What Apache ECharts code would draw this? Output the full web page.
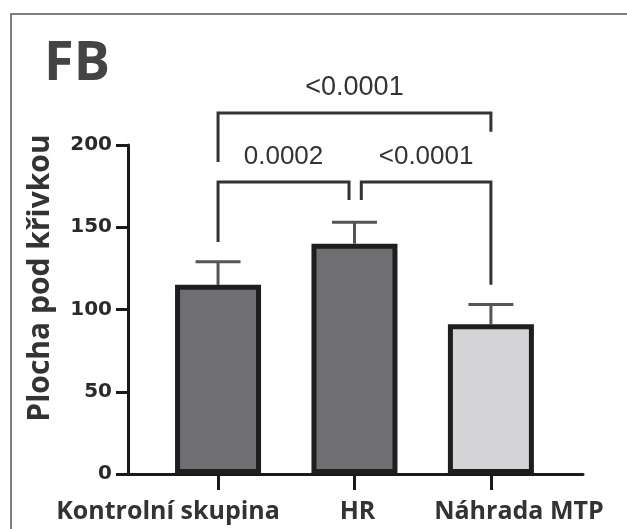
<!DOCTYPE html>
<html>
<head>
<meta charset="utf-8">
<script src="https://cdn.jsdelivr.net/npm/echarts@6/dist/echarts.min.js"></script>
<style>html,body{margin:0;padding:0;background:#fff}#c{width:627px;height:529px}</style>
</head>
<body>
<div id="c"></div>
<script>
const categories = ['Kontrolní skupina', 'HR', 'Náhrada MTP'];
const means = [115, 140, 91];
const upperErr = [129, 153, 103];
const yTicks = [0, 50, 100, 150, 200];
// brackets: [xStart, xEnd, yTop, yLeftEnd, yRightEnd]
const bracketX1 = [0, 1.05, 0];
const bracketX2 = [0.96, 2, 2];
const bracketTop = [177.5, 177.5, 219.5];
const bracketLeftEnd = [141, 166.5, 189.7];
const bracketRightEnd = [166.5, 115, 208];
const bracketLabels = ['0.0002', '<0.0001', '<0.0001'];
const bracketFontSize = [26, 26, 27];

const barColors = ['#6f6f73', '#6f6f73', '#d4d4d6'];
const labelStyleKeys = ['l', 'c', 'r'];

const chart = echarts.init(document.getElementById('c'), null, {renderer: 'canvas'});

const barData = means.map((v, i) => ({value: [i, v], itemStyle: {color: barColors[i]}}));
const errData = means.map((v, i) => [i, v, upperErr[i]]);
const brData = bracketX1.map((x, i) => [x, bracketTop[i], bracketX2[i], bracketLeftEnd[i], bracketRightEnd[i]]);

const lblBase = {fontFamily: 'Open Sans', fontWeight: 'bold', fontSize: 25, color: '#333'};

chart.setOption({
  animation: false,
  backgroundColor: '#fff',
  grid: {left: 128, right: 44, top: 145, bottom: 55},
  graphic: [
    {type: 'rect', shape: {x: 11, y: 14, width: 700, height: 600}, style: {fill: 'none', stroke: '#555', lineWidth: 1.5}, z: 0},
    {type: 'text', x: 44, y: 65, style: {text: 'FB', font: 'bold 54px "Open Sans"', fill: '#444', verticalAlign: 'middle', align: 'left'}},
    {type: 'text', x: 40, y: 278, rotation: Math.PI / 2, style: {text: 'Plocha pod křivkou', font: 'bold 30px "Open Sans"', fill: '#333', align: 'center', verticalAlign: 'middle'}}
  ],
  xAxis: {
    type: 'value', min: -0.66, max: 2.675,
    splitLine: {show: false},
    axisLine: {show: true, onZero: false, lineStyle: {color: '#1a1a1a', width: 3}},
    axisTick: {show: true, customValues: [0, 1, 2], length: 16, lineStyle: {color: '#1a1a1a', width: 3}},
    axisLabel: {customValues: [0, 1, 2], margin: 25,
      formatter: v => { const i = Math.round(v); return '{' + labelStyleKeys[i] + '|' + categories[i] + '}'; },
      rich: {
        l: Object.assign({padding: [0, 100, 0, 0]}, lblBase),
        c: Object.assign({padding: [0, 0, 0, 6]}, lblBase),
        r: Object.assign({padding: [0, 0, 0, 56]}, lblBase)
      }
    }
  },
  yAxis: {
    type: 'value', min: 0, max: 200, interval: 50,
    splitLine: {show: false},
    axisLine: {show: true, onZero: false, lineStyle: {color: '#1a1a1a', width: 3}},
    axisTick: {show: true, length: 12, lineStyle: {color: '#1a1a1a', width: 3}},
    axisLabel: {margin: 16, fontFamily: 'DejaVu Sans', fontWeight: 'bold', fontSize: 20, color: '#2a2a2a',
      customValues: yTicks}
  },
  series: [
    {
      type: 'custom', z: 1, clip: false,
      data: errData,
      renderItem: (params, api) => {
        const p0 = api.coord([api.value(0), api.value(1)]);
        const p1 = api.coord([api.value(0), api.value(2)]);
        const st = {stroke: '#555', lineWidth: 3};
        return {type: 'group', children: [
          {type: 'line', shape: {x1: p0[0], y1: p0[1], x2: p1[0], y2: p1[1]}, style: st},
          {type: 'line', shape: {x1: p1[0] - 22.5, y1: p1[1], x2: p1[0] + 22.5, y2: p1[1]}, style: st}
        ]};
      }
    },
    {
      type: 'bar', z: 2, barWidth: 86,
      data: barData,
      itemStyle: {borderColor: '#1e1e1e', borderWidth: 5}
    },
    {
      type: 'custom', z: 3, clip: false,
      data: brData,
      renderItem: (params, api) => {
        const a = api.coord([api.value(0), api.value(3)]);
        const b = api.coord([api.value(0), api.value(1)]);
        const c = api.coord([api.value(2), api.value(1)]);
        const d = api.coord([api.value(2), api.value(4)]);
        return {type: 'group', children: [
          {type: 'polyline', shape: {points: [a, b, c, d]}, style: {stroke: '#333', lineWidth: 3, fill: 'none', lineJoin: 'miter'}},
          {type: 'text', x: (b[0] + c[0]) / 2, y: b[1] - 25, style: {text: bracketLabels[params.dataIndex],
            font: bracketFontSize[params.dataIndex] + 'px "Liberation Sans"', fill: '#333', align: 'center', verticalAlign: 'middle'}}
        ]};
      }
    }
  ]
});
</script>
</body>
</html>
